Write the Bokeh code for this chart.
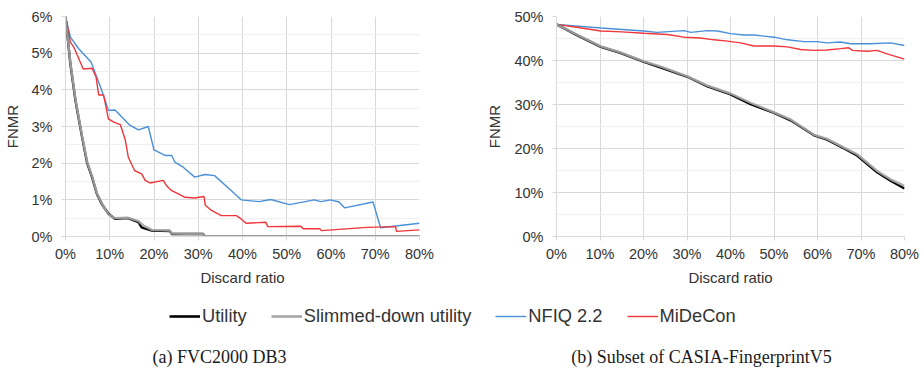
from bokeh.plotting import figure
from bokeh.layouts import column, row
from bokeh.models import (Range1d, NumeralTickFormatter, FixedTicker, Legend,
                          LegendItem, Label)
from bokeh.embed import file_html
from bokeh.resources import INLINE

# ---------------- data (discard ratio in %, FNMR in %) ----------------
# (a) FVC2000 DB3
a_util_x = [0, 1.1, 2.25, 3.75, 4.9, 6.0, 7.1, 8.2, 9.7, 11.2, 14.1, 15.4, 16.5, 17.2, 19.5, 23.6, 24.0, 31.1, 31.5, 80]
a_util_y = [6.0, 4.71, 3.71, 2.71, 2.0, 1.62, 1.16, 0.89, 0.62, 0.48, 0.50, 0.44, 0.39, 0.25, 0.16, 0.15, 0.07, 0.07, 0.0, 0.0]
a_slim_x = [0, 1.1, 2.25, 3.75, 4.9, 6.0, 7.1, 8.2, 9.7, 11.2, 14.1, 15.4, 16.5, 17.6, 19.5, 23.6, 24.0, 31.1, 31.5, 80]
a_slim_y = [6.0, 4.75, 3.74, 2.74, 2.03, 1.65, 1.18, 0.91, 0.60, 0.50, 0.51, 0.46, 0.42, 0.30, 0.18, 0.16, 0.08, 0.07, 0.01, 0.01]
a_nfiq_x = [0, 1.1, 3.0, 5.8, 8.2, 9.7, 11.2, 14.6, 16.5, 18.7, 20.0, 22.5, 24.0, 24.7, 26.6, 29.2, 31.5, 33.7, 37.5, 39.7,
            43.8, 46.4, 50.6, 56.2, 57.7, 59.9, 61.8, 63.1, 69.5, 71.2, 80]
a_nfiq_y = [6.0, 5.44, 5.12, 4.75, 3.98, 3.44, 3.45, 3.03, 2.91, 3.0, 2.36, 2.21, 2.21, 2.03, 1.89, 1.62, 1.69, 1.66, 1.25, 1.0,
            0.95, 1.01, 0.87, 1.0, 0.95, 1.0, 0.94, 0.78, 0.94, 0.24, 0.36]
a_mide_x = [0, 1.1, 1.9, 4.0, 6.0, 6.9, 7.5, 8.6, 9.7, 10.9, 12.4, 13.5, 14.2, 15.6, 17.2, 18.0, 19.1, 22.1, 22.8, 24.0,
            25.5, 27.0, 29.2, 31.3, 31.6, 33.0, 35.2, 38.6, 39.7, 40.8, 45.3, 45.7, 53.2, 53.7, 57.5, 57.8, 68.2, 74.6,
            74.8, 80]
a_mide_y = [6.0, 5.3, 5.16, 4.57, 4.59, 4.35, 3.86, 3.86, 3.21, 3.12, 3.05, 2.64, 2.16, 1.80, 1.71, 1.53, 1.46, 1.53, 1.39, 1.25,
            1.16, 1.07, 1.05, 1.09, 0.85, 0.71, 0.57, 0.57, 0.48, 0.36, 0.39, 0.27, 0.28, 0.21, 0.21, 0.16, 0.25, 0.27,
            0.14, 0.18]

# (b) Subset of CASIA-FingerprintV5
b_util_x = [0, 4.8, 10.2, 14.8, 20.1, 24.0, 30.1, 34.7, 40.0, 44.6, 50.0, 53.8, 59.2, 62.2, 66.1, 69.1, 73.7, 76.8, 80]
b_util_y = [48.2, 45.7, 43.1, 41.7, 39.7, 38.4, 36.3, 34.1, 32.3, 30.1, 28.1, 26.4, 23.0, 22.0, 20.0, 18.4, 14.6, 12.7, 10.9]
b_slim_x = [0, 4.8, 10.2, 14.8, 20.1, 24.0, 30.1, 34.7, 40.0, 44.6, 50.0, 53.8, 59.2, 62.2, 66.1, 69.1, 73.7, 76.8, 80]
b_slim_y = [48.2, 45.8, 43.2, 41.8, 39.8, 38.6, 36.4, 34.3, 32.5, 30.4, 28.2, 26.6, 23.1, 22.2, 20.2, 18.7, 14.9, 13.0, 11.5]
b_nfiq_x = [0, 10.2, 20.1, 23.1, 29.3, 30.9, 34.7, 37.0, 40.0, 43.1, 45.4, 50.0, 53.1, 56.9, 59.9, 62.2, 65.3, 67.6,
            72.2, 76.8, 80]
b_nfiq_y = [48.2, 47.4, 46.7, 46.4, 46.8, 46.4, 46.8, 46.7, 46.1, 45.8, 45.8, 45.3, 44.7, 44.3, 44.3, 44.0, 44.2, 43.8,
            43.8, 44.0, 43.4]
b_mide_x = [0, 5.0, 10.2, 15.0, 20.1, 25.5, 29.3, 33.1, 36.2, 39.3, 42.3, 45.4, 50.0, 53.1, 56.1, 59.2, 62.2, 65.3,
            67.2, 68.0, 71.4, 73.7, 76.0, 80]
b_mide_y = [48.2, 47.5, 46.7, 46.5, 46.2, 45.9, 45.3, 45.1, 44.7, 44.4, 44.0, 43.3, 43.3, 43.1, 42.5, 42.3, 42.4, 42.7,
            42.9, 42.3, 42.1, 42.3, 41.5, 40.3]

x_ticks = [0, 10, 20, 30, 40, 50, 60, 70, 80]
a_y_ticks = [0, 1, 2, 3, 4, 5, 6]
b_y_ticks = [0, 10, 20, 30, 40, 50]
series_names = ["Utility", "Slimmed-down utility", "NFIQ 2.2", "MiDeCon"]
captions = ["(a) FVC2000 DB3", "(b) Subset of CASIA-FingerprintV5"]

# ---------------- styling ----------------
C_UTIL, C_SLIM, C_NFIQ, C_MIDE = "#000000", "#a6a6a6", "#4a90d9", "#f0363a"
SANS = "Liberation Sans"
SERIF = "Liberation Serif"
GRID = "#d9d9d9"
TEXT = "#333333"


def make_panel(width, left, right, y_max, y_ticks, y_minor, data):
    p = figure(width=width, height=290, output_backend="svg", toolbar_location=None,
               x_range=Range1d(0, 80), y_range=Range1d(0, y_max),
               min_border_left=left, min_border_right=right,
               min_border_top=16, min_border_bottom=54)
    p.outline_line_color = None
    p.background_fill_color = "white"
    p.border_fill_color = "white"

    for ax in (p.xaxis[0], p.yaxis[0]):
        ax.axis_line_color = GRID
        ax.major_tick_line_color = GRID
        ax.major_tick_out = 4
        ax.major_tick_in = 0
        ax.minor_tick_line_color = None
        ax.major_label_text_font = SANS
        ax.major_label_text_font_size = "14.5px"
        ax.major_label_text_color = TEXT
        ax.axis_label_text_font = SANS
        ax.axis_label_text_font_size = "15px"
        ax.axis_label_text_font_style = "normal"
        ax.axis_label_text_color = TEXT
        ax.formatter = NumeralTickFormatter(format="0")

    p.xaxis[0].ticker = FixedTicker(ticks=x_ticks)
    p.yaxis[0].ticker = FixedTicker(ticks=y_ticks, minor_ticks=y_minor)
    p.xaxis[0].major_label_overrides = {t: f"{t}%" for t in x_ticks}
    p.yaxis[0].major_label_overrides = {t: f"{t}%" for t in y_ticks}
    p.xaxis[0].axis_label = "Discard ratio"
    p.yaxis[0].axis_label = "FNMR"
    p.xaxis[0].major_label_standoff = 5
    p.xaxis[0].axis_label_standoff = 4
    p.yaxis[0].major_label_standoff = 9
    p.yaxis[0].axis_label_standoff = 8

    p.xgrid.grid_line_color = GRID
    p.ygrid.grid_line_color = GRID
    p.ygrid.minor_grid_line_color = "#f0f0f0"

    (ux, uy), (sx, sy), (nx, ny), (mx, my) = data
    p.line(nx, ny, color=C_NFIQ, line_width=1.4)
    p.line(mx, my, color=C_MIDE, line_width=1.4)
    p.line(ux, uy, color=C_UTIL, line_width=2.4)
    p.line(sx, sy, color=C_SLIM, line_width=2.4, alpha=0.9)
    return p


pa = make_panel(460, 63, 41, 6, a_y_ticks, [0.5 + i for i in range(6)],
                [(a_util_x, a_util_y), (a_slim_x, a_slim_y), (a_nfiq_x, a_nfiq_y), (a_mide_x, a_mide_y)])
pb = make_panel(461, 96, 17, 50, b_y_ticks, [5 + 10 * i for i in range(5)],
                [(b_util_x, b_util_y), (b_slim_x, b_slim_y), (b_nfiq_x, b_nfiq_y), (b_mide_x, b_mide_y)])

# ---------------- shared legend and captions ----------------
pc = figure(width=921, height=79, output_backend="svg", toolbar_location=None,
            x_range=Range1d(0, 921), y_range=Range1d(0, 79),
            min_border=0, min_border_left=0, min_border_right=0,
            min_border_top=0, min_border_bottom=0)
pc.axis.visible = False
pc.grid.visible = False
pc.outline_line_color = None

# legend proxies: tiny segments parked outside the visible range
styles = [(C_UTIL, 2.6), (C_SLIM, 2.6), (C_NFIQ, 1.4), (C_MIDE, 1.4)]
items = []
for name, (col, lw) in zip(series_names, styles):
    r = pc.line([-20, -10], [-20, -20], color=col, line_width=lw)
    items.append(LegendItem(label=name, renderers=[r]))

legend = Legend(items=items, orientation="horizontal", location=(169, 42),
                glyph_width=31, glyph_height=20, label_standoff=2, spacing=24,
                padding=0, margin=0, border_line_color=None,
                background_fill_alpha=0,
                label_text_font=SANS, label_text_font_size="18.3px",
                label_text_color=TEXT, label_height=20)
pc.add_layout(legend)

for cx, txt in zip([219, 701], captions):
    pc.add_layout(Label(x=cx, y=13, text=txt, text_align="center", text_baseline="middle",
                        text_font=SERIF, text_font_size="18px", text_color="#1a1a1a"))

layout = column(row(pa, pb, spacing=0), pc, spacing=0)

open("out.html", "w").write(file_html(layout, INLINE))
